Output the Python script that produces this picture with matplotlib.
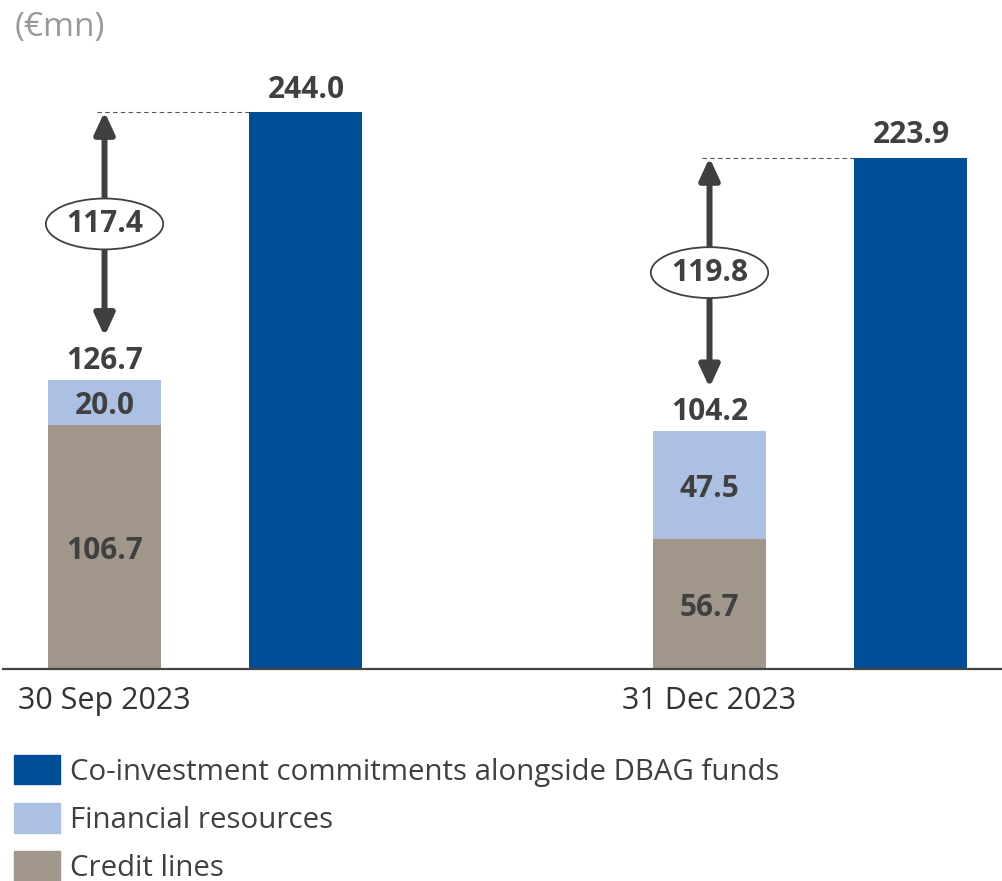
import matplotlib
matplotlib.use("Agg")
import matplotlib.pyplot as plt
from matplotlib.patches import Patch

plt.rcParams["font.family"] = ["Open Sans", "DejaVu Sans"]

# data
dates = ["30 Sep 2023", "31 Dec 2023"]
credit_lines = [106.7, 56.7]
financial_resources = [20.0, 47.5]
coinvestment = [244.0, 223.9]
gap = [117.4, 119.8]

BLUE = "#004E98"
LIGHT = "#ABC0E3"
TAUPE = "#A0968A"
DARK = "#404040"

W, H = 1003, 881
fig = plt.figure(figsize=(W / 100, H / 100), dpi=100)
ax = fig.add_axes([3 / W, (H - 669) / H, 1 - 3 / W, (669 - 40) / H])

off = 0.1665
bw = 0.1868
xs = [i - off for i in range(len(dates))]
xb = [i + off for i in range(len(dates))]
totals = [c + f for c, f in zip(credit_lines, financial_resources)]

ax.bar(xs, credit_lines, bw, color=TAUPE, zorder=2)
ax.bar(xs, financial_resources, bw, bottom=credit_lines, color=LIGHT, zorder=2)
ax.bar(xb, coinvestment, bw, color=BLUE, zorder=2)

lab = dict(ha="center", va="center_baseline", fontsize=21.5, fontweight="bold", color=DARK)
for i in range(len(dates)):
    ax.text(xs[i], credit_lines[i] / 2, f"{credit_lines[i]:.1f}", **lab)
    ax.text(xs[i], credit_lines[i] + financial_resources[i] / 2,
            f"{financial_resources[i]:.1f}", **lab)
    ax.annotate(f"{totals[i]:.1f}", (xs[i], totals[i]), xytext=(0, 16),
                textcoords="offset points", **lab)
    ax.annotate(f"{coinvestment[i]:.1f}", (xb[i], coinvestment[i]), xytext=(0, 18.5),
                textcoords="offset points", **lab)

    # gap arrow
    bottom = totals[i] + 19
    ax.annotate("", xy=(xs[i], coinvestment[i]), xytext=(xs[i], bottom),
                arrowprops=dict(arrowstyle="<|-|>,head_length=0.65,head_width=0.3",
                                mutation_scale=20, lw=4.3, color=DARK,
                                shrinkA=0, shrinkB=0), zorder=3)
    ax.hlines(coinvestment[i], xs[i] - 0.012, xb[i] - bw / 2, colors="#555555",
              linestyles=(0, (4, 3)), lw=0.8, zorder=1)
    ax.text(xs[i], (coinvestment[i] + bottom) / 2, f"{gap[i]:.1f}", zorder=5,
            bbox=dict(boxstyle="ellipse,pad=0.1", fc="white", ec=DARK, lw=1.3),
            **{**lab, "va": "center"})

ax.set_xlim((3 - 205.25) / 605, (1003 - 205.25) / 605)
ax.set_ylim(0, (669 - 40) / 2.284)
ax.set_xticks(xs)
ax.set_xticklabels(dates, fontsize=22, color="#333333")
ax.tick_params(axis="x", length=0, pad=12)
ax.set_yticks([])
for s in ["top", "left", "right"]:
    ax.spines[s].set_visible(False)
ax.spines["bottom"].set_color("#444444")
ax.spines["bottom"].set_linewidth(1.6)

fig.text(15 / W, 1 - 11 / H, "(\u20acmn)", fontsize=24, color="#999999", va="top", ha="left")

handles = [Patch(color=BLUE), Patch(color=LIGHT), Patch(color=TAUPE)]
labels = ["Co-investment commitments alongside DBAG funds", "Financial resources", "Credit lines"]
fig.legend(handles, labels, loc="upper left", bbox_to_anchor=(14 / W, 1 - 755 / H),
           frameon=False, fontsize=21.2, labelcolor=DARK, borderpad=0, borderaxespad=0,
           handlelength=1.56, handleheight=1.16, handletextpad=0.34, labelspacing=0.56)

fig.savefig("out.png", dpi=100)
